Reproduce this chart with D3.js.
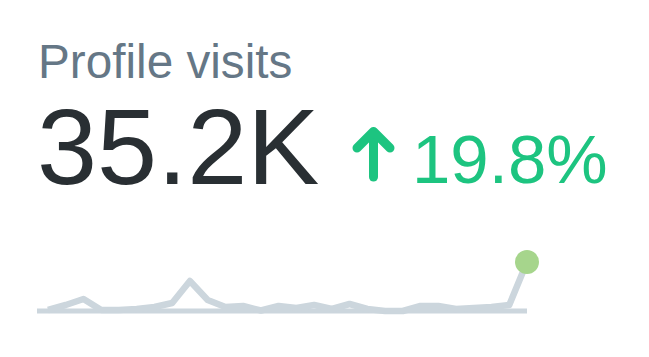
<!DOCTYPE html>
<html>
<head>
<meta charset="utf-8">
<script src="https://cdn.jsdelivr.net/npm/d3@7"></script>
<style>
    html, body { margin: 0; padding: 0; background: #fff; }
    svg text { font-family: "Liberation Sans", Arial, sans-serif; }
</style>
</head>
<body>
<svg id="card" width="649" height="357"></svg>
<script>
// card labels
const title = 'Profile visits';
const total = '35.2K';
const change = '19.8%';

// daily visits (relative), 28 days
const days = d3.range(1, 29);
const visits = [1, 6, 12, 1, 1, 2, 4, 8, 30, 11, 4, 5, 0.5, 5, 3, 6, 2, 7, 2, 0, 0, 5, 5, 2, 3, 4, 6, 49];

const svg = d3.select('#card');

svg.append('text')
    .attr('x', 38)
    .attr('y', 78)
    .attr('font-size', 47.7)
    .attr('fill', '#657786')
    .text(title);

svg.append('text')
    .attr('x', 37)
    .attr('y', 184)
    .attr('font-size', 108)
    .attr('fill', '#292f33')
    .text(total);

const green = '#1dc480';

// up arrow
const arrow = svg.append('g')
    .attr('fill', 'none')
    .attr('stroke', green)
    .attr('stroke-width', 9)
    .attr('stroke-linecap', 'round')
    .attr('stroke-linejoin', 'round');
arrow.append('path').attr('d', 'M373.5,177 V133');
arrow.append('path').attr('d', 'M357,148 L373.5,131.5 L390,148');

svg.append('text')
    .attr('x', 412)
    .attr('y', 183)
    .attr('font-size', 69)
    .attr('fill', green)
    .text(change);

// sparkline
const x = d3.scaleLinear()
    .domain(d3.extent(days))
    .range([48, 527]);

const y = d3.scaleLinear()
    .domain([0, 49])
    .range([311, 262]);

svg.append('line')
    .attr('x1', x.range()[0] - 11)
    .attr('x2', x.range()[1])
    .attr('y1', y(0))
    .attr('y2', y(0))
    .attr('stroke', '#ccd6dd')
    .attr('stroke-width', 5);

const line = d3.line()
    .x((d, i) => x(days[i]))
    .y((d) => y(d));

svg.append('path')
    .datum(visits)
    .attr('d', line)
    .attr('fill', 'none')
    .attr('stroke', '#ccd6dd')
    .attr('stroke-width', 6.5)
    .attr('stroke-linejoin', 'round');

const last = visits.length - 1;
svg.append('circle')
    .attr('cx', x(days[last]))
    .attr('cy', y(visits[last]))
    .attr('r', 12)
    .attr('fill', '#a6d58c');
</script>
</body>
</html>
